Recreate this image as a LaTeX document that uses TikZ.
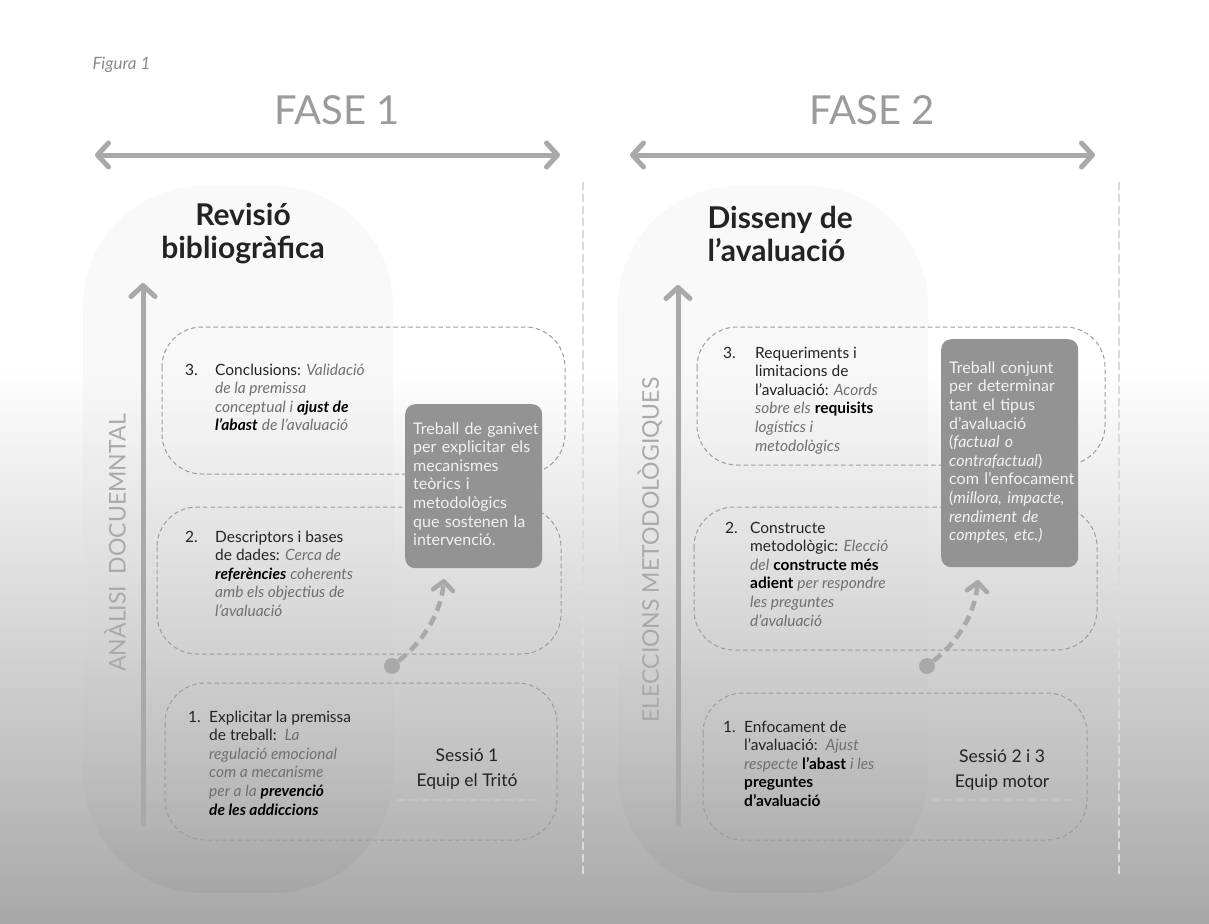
\documentclass[tikz,border=0pt]{standalone}
\usepackage{fontspec}
\setmainfont{Lato}
\usetikzlibrary{arrows.meta,fadings}

\definecolor{fasegray}{HTML}{9B9B9B}
\definecolor{arrowgray}{HTML}{A9A9A9}
\definecolor{boxgray}{HTML}{9C9C9C}
\definecolor{sepgray}{HTML}{DADADA}
\definecolor{darkfill}{HTML}{939393}
\definecolor{txtdark}{HTML}{232323}
\definecolor{itgray}{HTML}{707070}
\definecolor{bggray}{HTML}{A8A8A8}

\newcommand\itg[1]{{\color{itgray}\itshape #1}}
\newcommand\bfit[1]{{\color{black}\bfseries\itshape #1}}
\newcommand\bfup[1]{{\color{black}\bfseries #1}}

\begin{document}
\begin{tikzpicture}[x=1pt,y=-1pt]\tikzset{
  bigarrow/.style = {draw=arrowgray, line width=5pt, >={Straight Barb[length=11pt,width=24pt,round]}, <->},
  uparrow/.style = {draw=arrowgray, line width=5pt, -{Straight Barb[length=11pt,width=24pt,round]}},
  curvearrow/.style = {draw=arrowgray, line width=4.5pt, dash pattern=on 10pt off 6pt, -{Straight Barb[length=9pt,width=20pt,round]}},
  dotnode/.style = {shape=circle, fill=arrowgray, inner sep=0pt, minimum size=16pt},
  dashbox/.style = {draw=boxgray, line width=1pt, dash pattern=on 4.5pt off 3pt, rounded corners=40pt},
  sepline/.style = {draw=sepgray, line width=2pt, dash pattern=on 8pt off 4pt},
  sesline/.style = {draw=sepgray!90!black, line width=1.5pt, dash pattern=on 8pt off 4pt},
  pillshade/.style = {fill=black, fill opacity=0.035, rounded corners=120pt},
  pilllight/.style = {fill=white, fill opacity=0.4, path fading=south, rounded corners=120pt},
  fase/.style = {text=fasegray, font=\fontsize{40}{48}\selectfont},
  title/.style = {text=txtdark, font=\fontsize{30}{33}\selectfont\bfseries},
  sidelabel/.style = {text=arrowgray, rotate=90, font=\fontsize{23}{26}\selectfont},
  item/.style = {anchor=base west, inner sep=0pt, text=txtdark, font=\fontsize{15.5}{18.6}\selectfont},
  darkbox/.style = {anchor=north west, fill=darkfill, rounded corners=10pt, text=white!95!black,
    align=left, text width=121pt, inner xsep=8pt, inner ysep=0pt, font=\fontsize{16}{18.6}\selectfont},
  sessio/.style = {align=center, text=txtdark, font=\fontsize{17.5}{25}\selectfont}}

		\useasboundingbox (0,0) rectangle (1209,923);
		\fill[white] (0,0) rectangle (1209,923);
		\shade[top color=white, bottom color=bggray] (0,370) rectangle (1209,923);

		\path[pillshade] (83,186) rectangle (393,893);
		\path[pilllight] (83,186) rectangle (393,893);
		\path[pillshade] (618,186) rectangle (928,893);
		\path[pilllight] (618,186) rectangle (928,893);

		\draw[sepline] (583,182) -- (583,878);
		\draw[sepline] (1119,182) -- (1119,878);

		\node[anchor=west, text=fasegray!90!black, font=\fontsize{17}{20}\selectfont\itshape] (fig) at (89,65) {Figura 1};

		\node[fase] (F_1) at (337,110) {FASE 1};
		\node[fase] (F_2) at (872,110) {FASE 2};

		\coordinate (H_1a) at (95,155);
		\coordinate (H_1b) at (560,155);
		\coordinate (H_2a) at (630,155);
		\coordinate (H_2b) at (1095,155);
		\draw[bigarrow] (H_1a) -- (H_1b);
		\draw[bigarrow] (H_2a) -- (H_2b);

		\node[title, align=center] (T_1) at (243,234) {Revisió\\bibliogràfica};
		\node[title, align=left, anchor=west] (T_2) at (704,234) {Disseny de\\l’avaluació};

		\coordinate (V_1a) at (143,826);
		\coordinate (V_1b) at (143,283);
		\coordinate (V_2a) at (678,826);
		\coordinate (V_2b) at (678,285);
		\draw[uparrow] (V_1a) -- (V_1b);
		\draw[uparrow] (V_2a) -- (V_2b);

		\node[sidelabel] (S_1) at (115,543) {ANÀLISI\ \ DOCUEMNTAL};
		\node[sidelabel] (S_2) at (650,550) {ELECCIONS METODOLÒGIQUES};

		\draw[dashbox] (162,327) rectangle (565,474);
		\draw[dashbox] (157,507) rectangle (561,654);
		\draw[dashbox] (165,683) rectangle (557,840);
		\draw[dashbox] (697,327) rectangle (1105,465);
		\draw[dashbox] (694,507) rectangle (1097,650);
		\draw[dashbox] (703,693) rectangle (1087,840);

		\node[item] (A_3) at (185,375) {\begin{tabular}[t]{@{}p{30pt}@{}l@{}}
			3. & Conclusions: \itg{Validació}\\
			& \itg{de la premissa}\\
			& \itg{conceptual i} \bfit{ajust de}\\
			& \bfit{l’abast} \itg{de l’avaluació}\end{tabular}};
		\node[item] (A_2) at (185,542) {\begin{tabular}[t]{@{}p{30pt}@{}l@{}}
			2. & Descriptors i bases\\
			& de dades: \itg{Cerca de}\\
			& \bfit{referències} \itg{coherents}\\
			& \itg{amb els objectius de}\\
			& \itg{l’avaluació}\end{tabular}};
		\node[item] (A_1) at (188,722) {\begin{tabular}[t]{@{}p{21pt}@{}l@{}}
			1. & Explicitar la premissa\\
			& de treball:\ \ \itg{La}\\
			& \itg{regulació emocional}\\
			& \itg{com a mecanisme}\\
			& \itg{per a la} \bfit{prevenció}\\
			& \bfit{de les addiccions}\end{tabular}};

		\node[item] (B_3) at (723,358) {\begin{tabular}[t]{@{}p{32pt}@{}l@{}}
			3. & Requeriments i\\
			& limitacions de\\
			& l’avaluació: \itg{Acords}\\
			& \itg{sobre els} \bfup{requisits}\\
			& \itg{logístics i}\\
			& \itg{metodològics}\end{tabular}};
		\node[item] (B_2) at (725,533) {\begin{tabular}[t]{@{}p{25pt}@{}l@{}}
			2. & Constructe\\
			& metodològic: \itg{Elecció}\\
			& \itg{del} \bfup{constructe més}\\
			& \bfup{adient} \itg{per respondre}\\
			& \itg{les preguntes}\\
			& \itg{d’avaluació}\end{tabular}};
		\node[item] (B_1) at (723,732) {\begin{tabular}[t]{@{}p{21pt}@{}l@{}}
			1. & Enfocament de\\
			& l’avaluació:\ \ \itg{Ajust}\\
			& \itg{respecte} \bfup{l’abast} \itg{i les}\\
			& \bfup{preguntes}\\
			& \bfup{d’avaluació}\end{tabular}};

		\node[darkbox, minimum height=164pt] (K_1) at (405,404) {\begin{tabular}{@{}l@{}}
			Treball de ganivet\\per explicitar els\\mecanismes\\teòrics i\\metodològics\\que sostenen la\\intervenció.\end{tabular}};
		\node[darkbox, minimum height=228pt] (K_2) at (941,339) {\begin{tabular}{@{}l@{}}
			Treball conjunt\\per determinar\\tant el tipus\\d’avaluació\\(\textit{factual o}\\\textit{contrafactual})\\com l’enfocament\\(\textit{millora, impacte,}\\\textit{rendiment de}\\\textit{comptes, etc.)}\end{tabular}};

		\node[dotnode] (D_1) at (392,666) {};
		\node[dotnode] (D_2) at (927,666) {};
		\coordinate (P_1) at (444,579);
		\coordinate (P_2) at (978,580);
		\draw[curvearrow] (D_1) .. controls (425,640) and (441,612) .. (P_1);
		\draw[curvearrow] (D_2) .. controls (960,640) and (975,612) .. (P_2);

		\node[sessio] (E_1) at (467,769) {Sessió 1\\Equip el Tritó};
		\node[sessio] (E_2) at (1002,770) {Sessió 2 i 3\\Equip motor};
		\draw[sesline] (397,800) -- (537,800);
		\draw[sesline] (932,800) -- (1073,800);
	\end{tikzpicture}
\end{document}
